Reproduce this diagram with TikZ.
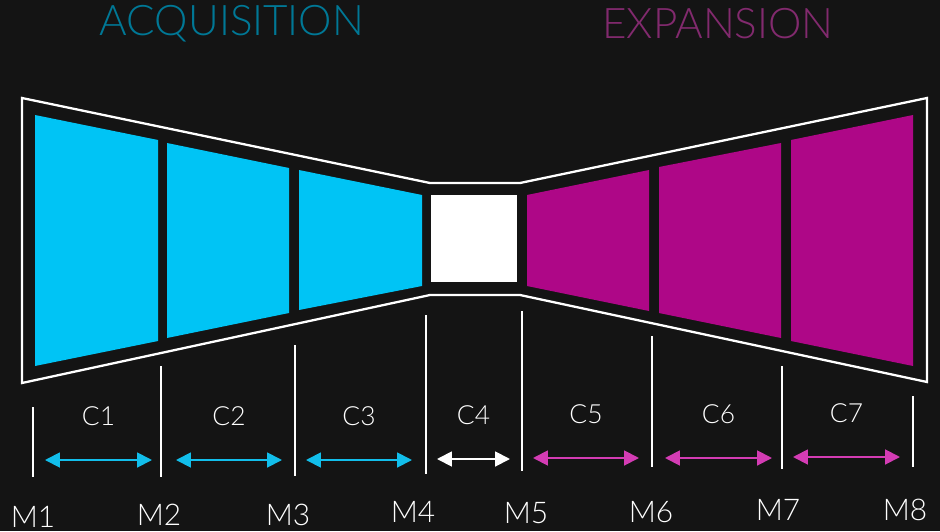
\documentclass[tikz,border=0pt]{standalone}
\usepackage{fontspec}
\setmainfont{Lato Light}
\usetikzlibrary{arrows.meta}

\definecolor{sfondo}{HTML}{141414}
\definecolor{acqblu}{HTML}{00C4F5}
\definecolor{espmag}{HTML}{AE0787}
\definecolor{frecblu}{HTML}{12BEEB}
\definecolor{frecmag}{HTML}{D43CB4}
\definecolor{titblu}{HTML}{007896}
\definecolor{titmag}{HTML}{822A6E}

\tikzset{
  bordo/.style={draw=white, line width=1.3pt, line join=miter},
  tacca/.style={draw=white, line width=1pt},
  freccia/.style={line width=1.1pt, {Triangle[length=8.5pt,width=8.5pt]}-{Triangle[length=8.5pt,width=8.5pt]}},
  etic/.style={text=white, font=\fontsize{15}{18}\selectfont, inner sep=0pt},
  titolo/.style={font=\fontsize{24}{28}\selectfont, inner sep=0pt}
}

\begin{document}
\begin{tikzpicture}[x=0.02cm, y=-0.02cm]
    \useasboundingbox (0,0) rectangle (940,531);
    \fill[sfondo] (0,0) rectangle (940,531);

    % titoli
    \node[titolo, text=titblu] (acq) at (232,24) {ACQUISITION};
    \node[titolo, text=titmag] (esp) at (718,24) {EXPANSION};

    % contorno
    \draw[bordo] (22,98) -- (430,183) -- (520,183) -- (927,98) -- (927,382)
        -- (520,295) -- (430,295) -- (22,383) -- cycle;

    % blocchi a sinistra
    \fill[acqblu] (35,115) -- (158,140) -- (158,341) -- (35,366) -- cycle;
    \fill[acqblu] (167,143) -- (289,168) -- (289,313) -- (167,338) -- cycle;
    \fill[acqblu] (299,170) -- (422,195) -- (422,286) -- (299,310) -- cycle;

    % quadrato centrale
    \fill[white] (431,195) rectangle (517,282);

    % blocchi a destra
    \fill[espmag] (527,195) -- (649,170) -- (649,311) -- (527,286) -- cycle;
    \fill[espmag] (659,167) -- (781,143) -- (781,338) -- (659,313) -- cycle;
    \fill[espmag] (791,140) -- (913,115) -- (913,366) -- (791,341) -- cycle;

    % tacche e mesi
    \foreach \n/\x/\ya/\yb/\xm/\ym in {1/33/407/477/33/517, 2/161/366/477/159/515,
        3/295/345/476/288/515, 4/426/315/474/413/512, 5/522/311/471/526/513,
        6/652/336/467/651/512, 7/782/366/469/778/510, 8/913/396/467/905/510} {
        \coordinate (t\n) at (\x,\ya);
        \coordinate (b\n) at (\x,\yb);
        \draw[tacca] (t\n) -- (b\n);
        \node[etic, font=\fontsize{17}{20}\selectfont] (m\n) at (\xm,\ym) {M\n};
    }

    % frecce e cicli
    \foreach \n/\xa/\xb/\y/\col in {1/45/152/460/frecblu, 2/176/282/460/frecblu,
        3/306/412/460/frecblu, 4/437/510/459/white, 5/533/639/458/frecmag,
        6/665/772/458/frecmag, 7/793/900/457/frecmag} {
        \coordinate (s\n) at (\xa,\y);
        \coordinate (e\n) at (\xb,\y);
        \draw[freccia, \col] (s\n) -- (e\n);
        \node[etic] (c\n) at ({(\xa+\xb)/2},\y-44) {C\n};
    }
\end{tikzpicture}
\end{document}
